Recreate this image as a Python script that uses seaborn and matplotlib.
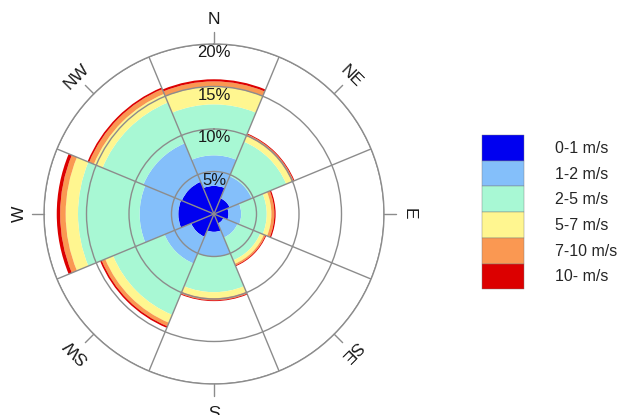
import numpy as np
import matplotlib
matplotlib.use("Agg")
import matplotlib.pyplot as plt
import seaborn as sns
from matplotlib.patches import Patch

# %%
# wind rose data (% of time per direction and speed class)
directions = ['N', 'NE', 'E', 'SE', 'S', 'SW', 'W', 'NW']
speed_bins = ['0-1 m/s', '1-2 m/s', '2-5 m/s', '5-7 m/s', '7-10 m/s', '10- m/s']

s_0_1 = [3.3, 2.0, 1.7, 1.2, 2.1, 2.9, 4.2, 4.1]
s_1_2 = [3.6, 2.8, 1.5, 1.8, 2.9, 3.4, 4.55, 4.9]
s_2_5 = [6.0, 4.4, 3.0, 2.9, 4.2, 6.55, 7.25, 5.2]
s_5_7 = [2.05, 0.7, 0.55, 0.45, 0.7, 1.0, 1.45, 1.1]
s_7_10 = [0.65, 0.25, 0.35, 0.2, 0.25, 0.45, 0.65, 0.6]
s_10 = [0.25, 0.1, 0.15, 0.1, 0.1, 0.2, 0.4, 0.2]

ring_values = [5, 10, 15, 20]
ring_labels = ['5%', '10%', '15%', '20%']

colors = ['#0000F0', '#84BFFA', '#A8F8D4', '#FFF690', '#FA9852', '#DC0000']

# %%
sns.set_style('white')
plt.rcParams['font.family'] = ['Liberation Sans', 'DejaVu Sans']

fig = plt.figure(figsize=(6.21, 4.15), dpi=100)
ax = fig.add_axes([44 / 621, 31 / 415, 340 / 621, 340 / 415], projection='polar')
ax.set_theta_zero_location('N')
ax.set_theta_direction(-1)

theta = np.deg2rad(np.arange(len(directions)) * 45)
width = 2 * np.pi / len(directions)

series = [s_0_1, s_1_2, s_2_5, s_5_7, s_7_10, s_10]
bottom = np.zeros(len(directions))
for vals, col in zip(series, colors):
    ax.bar(theta, vals, width=width, bottom=bottom, color=col,
           edgecolor='none', linewidth=0, align='center', zorder=1)
    bottom = bottom + np.array(vals)

# grid: rings and sector boundaries on top of the bars
ax.set_ylim(0, 20)
ax.set_yticks(ring_values)
ax.set_yticklabels([])
ax.set_xticks(np.deg2rad(np.arange(22.5, 360, 45)))
ax.set_xticklabels([])
ax.tick_params(length=0)
ax.set_axisbelow(False)
ax.grid(True, color='#8c8c8c', linewidth=1.0, linestyle='-')
ax.spines['polar'].set_color('#8c8c8c')
ax.spines['polar'].set_linewidth(1.0)

# ring labels along north
for v, lab in zip(ring_values, ring_labels):
    ax.text(0, v - 1.05, lab, ha='center', va='center', fontsize=12,
            color='#1a1a1a', zorder=5)

# direction ticks and labels
for ang, name in zip(np.arange(len(directions)) * 45, directions):
    t = np.deg2rad(ang)
    ax.plot([t, t], [20, 21.4], color='#8c8c8c', linewidth=1.0, clip_on=False)
    ax.text(t, 22.9, name, ha='center', va='center', fontsize=12.5,
            rotation=-ang, rotation_mode='anchor', color='#1a1a1a')

# legend
handles = [Patch(facecolor=c, edgecolor='#7a7a7a', linewidth=0.3) for c in colors]
fig.legend(handles, speed_bins, loc='upper left',
           bbox_to_anchor=(482 / 621, 1 - 135 / 415), frameon=False,
           fontsize=11.5, handlelength=2.65, handleheight=2.1,
           labelspacing=0, handletextpad=1.9, borderpad=0, borderaxespad=0)

fig.savefig('out.png', dpi=100)
